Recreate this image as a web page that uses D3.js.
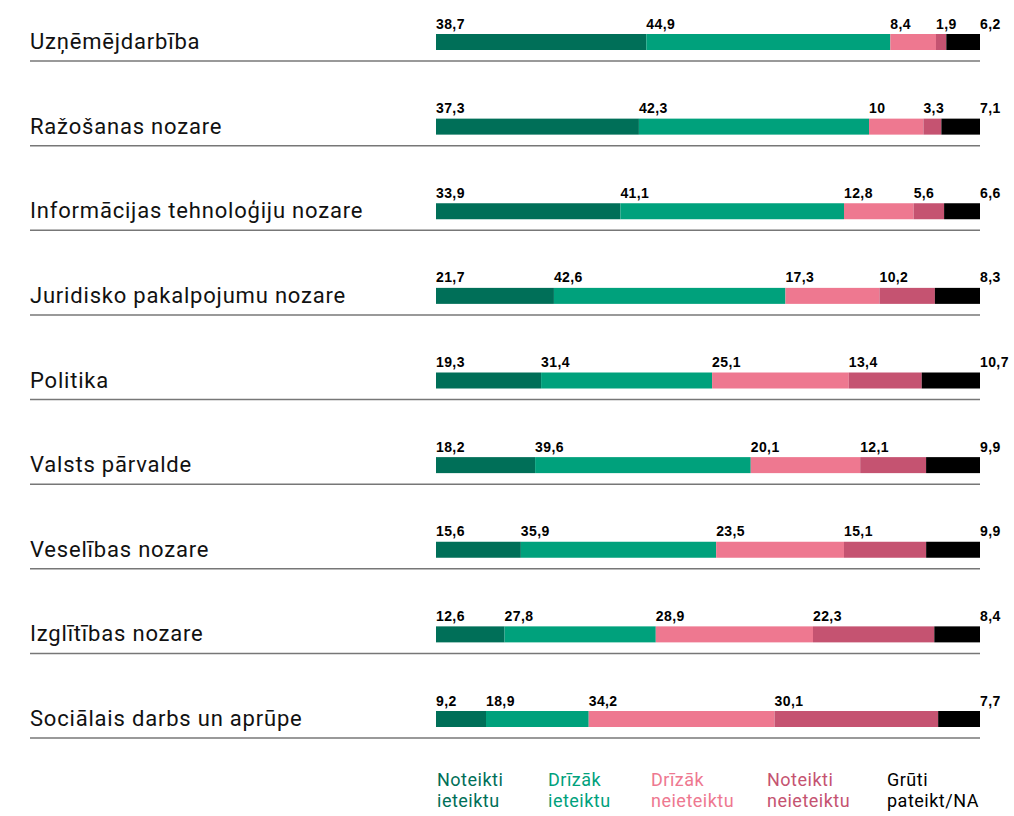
<!DOCTYPE html>
<html>
<head>
<meta charset="utf-8">
<script src="https://cdn.jsdelivr.net/npm/d3@7"></script>
<style>
  body { margin: 0; background: #fff; }
  svg text { font-family: Roboto, "Liberation Sans", sans-serif; }
  .cat { font-size: 22px; letter-spacing: 0.8px; fill: #111; }
  .val { font-family: "Liberation Sans", Arial, sans-serif; font-size: 14px; letter-spacing: 0.4px; font-weight: 700; fill: #000; }
  .leg { font-size: 18px; letter-spacing: 0.5px; }
</style>
</head>
<body>
<svg id="chart"></svg>
<script>
// data (percent)
var categories = ["Uzņēmējdarbība", "Ražošanas nozare", "Informācijas tehnoloģiju nozare",
  "Juridisko pakalpojumu nozare", "Politika", "Valsts pārvalde", "Veselības nozare",
  "Izglītības nozare", "Sociālais darbs un aprūpe"];
var noteiktiIeteiktu   = [38.7, 37.3, 33.9, 21.7, 19.3, 18.2, 15.6, 12.6, 9.2];
var drizakIeteiktu     = [44.9, 42.3, 41.1, 42.6, 31.4, 39.6, 35.9, 27.8, 18.9];
var drizakNeieteiktu   = [8.4, 10, 12.8, 17.3, 25.1, 20.1, 23.5, 28.9, 34.2];
var noteiktiNeieteiktu = [1.9, 3.3, 5.6, 10.2, 13.4, 12.1, 15.1, 22.3, 30.1];
var grutiPateikt       = [6.2, 7.1, 6.6, 8.3, 10.7, 9.9, 9.9, 8.4, 7.7];

var seriesKeys = ["nI", "dI", "dN", "nN", "g"];
var seriesLabels = [["Noteikti", "ieteiktu"], ["Drīzāk", "ieteiktu"], ["Drīzāk", "neieteiktu"],
  ["Noteikti", "neieteiktu"], ["Grūti", "pateikt/NA"]];
var seriesColors = ["#006f58", "#00a17c", "#ee7890", "#c55371", "#000000"];

var width = 1014, height = 816;
var barLeft = 436, barRight = 980, lineLeft = 30;

var rows = categories.map(function(c, i) {
  return { cat: c, nI: noteiktiIeteiktu[i], dI: drizakIeteiktu[i], dN: drizakNeieteiktu[i],
           nN: noteiktiNeieteiktu[i], g: grutiPateikt[i] };
});

var svg = d3.select("#chart").attr("width", width).attr("height", height);

var lv = d3.formatLocale({ decimal: ",", thousands: " ", grouping: [3], currency: ["", "€"] });
var fmt = lv.format(".1~f");

// y of the rule under each row
var y = d3.scalePoint().domain(categories).range([61, 738]);
var x = d3.scaleLinear().domain([0, 1]).range([barLeft, barRight]);
var color = d3.scaleOrdinal().domain(seriesKeys).range(seriesColors);

var stacked = d3.stack().keys(seriesKeys).offset(d3.stackOffsetExpand)(rows);

var row = svg.selectAll("g.row")
  .data(rows)
  .enter().append("g")
  .attr("class", "row")
  .attr("transform", function(d) { return "translate(0," + y(d.cat) + ")"; });

row.append("line")
  .attr("x1", lineLeft).attr("x2", barRight)
  .attr("y1", 0).attr("y2", 0)
  .attr("stroke", "#777").attr("stroke-width", 1.5);

row.append("text")
  .attr("class", "cat")
  .attr("x", lineLeft).attr("y", -12)
  .text(function(d) { return d.cat; });

stacked.forEach(function(s) {
  svg.selectAll("rect.s-" + s.key)
    .data(s)
    .enter().append("rect")
    .attr("class", "s-" + s.key)
    .attr("x", function(d) { return x(d[0]); })
    .attr("width", function(d) { return x(d[1]) - x(d[0]); })
    .attr("y", function(d) { return y(d.data.cat) - 27; })
    .attr("height", 16)
    .attr("fill", color(s.key));

  var last = s.key === "g";
  svg.selectAll("text.v-" + s.key)
    .data(s)
    .enter().append("text")
    .attr("class", "val v-" + s.key)
    .attr("x", function(d) { return last ? x(d[1]) : x(d[0]); })
    .attr("y", function(d) { return y(d.data.cat) - 32.5; })
    .text(function(d) { return fmt(d.data[s.key]); });
});

// legend
var legendX = [437, 548, 651, 767, 887];
var leg = svg.selectAll("g.leg")
  .data(seriesKeys)
  .enter().append("g")
  .attr("transform", function(d, i) { return "translate(" + legendX[i] + ",786)"; });

leg.append("text")
  .attr("class", "leg")
  .attr("fill", function(d) { return color(d); })
  .selectAll("tspan")
  .data(function(d, i) { return seriesLabels[i]; })
  .enter().append("tspan")
  .attr("x", 0)
  .attr("y", function(d, i) { return i * 21; })
  .text(function(d) { return d; });
</script>
</body>
</html>
